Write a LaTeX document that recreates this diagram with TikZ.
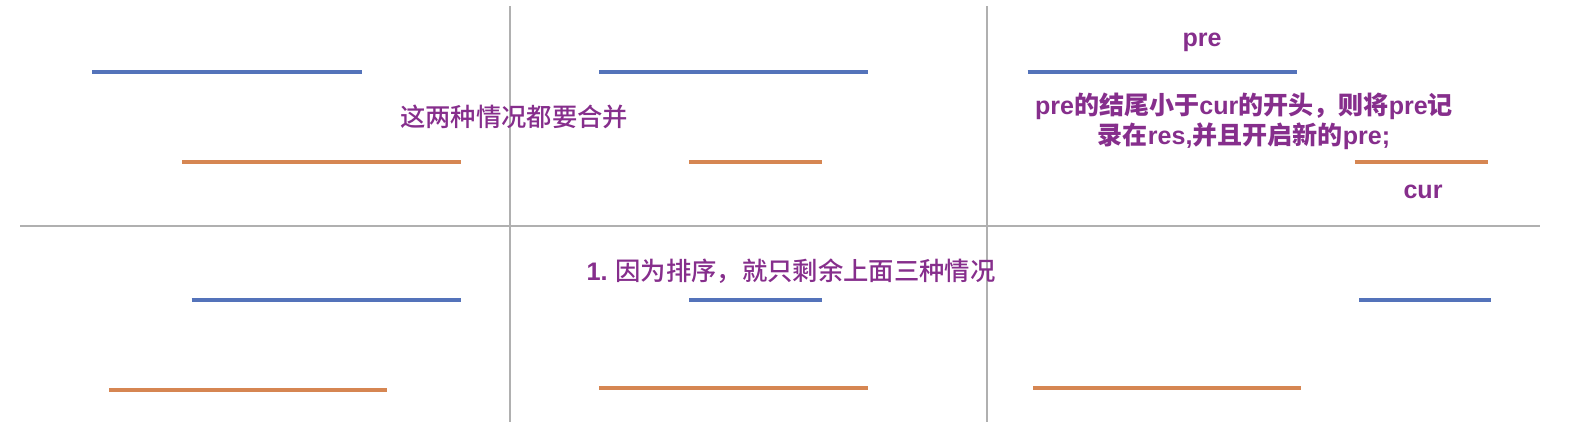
\documentclass[tikz,border=0pt]{standalone}
\usepackage{fontspec}
\setmainfont{Liberation Sans}
\newfontfamily\cjk{Noto Sans CJK SC}
\newfontfamily\cjkmed{Noto Sans CJK SC Medium}
\newcommand{\lat}[1]{{\rmfamily\bfseries #1}}
\definecolor{segblue}{RGB}{84,115,186}
\definecolor{segorange}{RGB}{214,134,82}
\definecolor{gridgray}{RGB}{176,176,176}
\definecolor{txtpurple}{RGB}{134,46,140}
\tikzset{
  bluebar/.style={draw=segblue,line width=3pt},
  orangebar/.style={draw=segorange,line width=3pt},
  gridline/.style={draw=gridgray,line width=1.5pt},
  lbl/.style={text=txtpurple,inner sep=0pt,font=\cjkmed\fontsize{19}{22.5}\selectfont},
  lblr/.style={text=txtpurple,inner sep=0pt,align=center,font=\cjk\bfseries\fontsize{18.8}{22.5}\selectfont}
}
\begin{document}
\begin{tikzpicture}[x=0.75pt,y=-0.75pt]
\useasboundingbox (0,0) rectangle (1580,426);
% grid
\draw[gridline] (20,225.6) -- (1540,225.6);
\draw[gridline] (510,6) -- (510,422);
\draw[gridline] (987.3,6) -- (987.3,422);
% top row
\draw[bluebar] (92.3,72.3) -- (361.7,72.3);
\draw[orangebar] (182.3,162.3) -- (460.7,162.3);
\draw[bluebar] (599.3,72.3) -- (868.3,72.3);
\draw[orangebar] (689.3,162.3) -- (822.3,162.3);
\draw[bluebar] (1027.7,72.3) -- (1296.7,72.3);
\draw[orangebar] (1354.7,162.3) -- (1487.7,162.3);
% bottom row
\draw[bluebar] (191.7,300.3) -- (460.7,300.3);
\draw[orangebar] (109,390) -- (387,390);
\draw[bluebar] (689.3,300.3) -- (822.3,300.3);
\draw[orangebar] (599.3,387.7) -- (868.3,387.7);
\draw[bluebar] (1359.4,300.3) -- (1491.4,300.3);
\draw[orangebar] (1033,388) -- (1301,388);
% labels
\node[lbl] (merge) at (514,117) {这两种情况都要合并};
\node[lbl] (sorted) at (791,271.5) {\lat{1.} 因为排序，就只剩余上面三种情况};
\node[lblr] (pre) at (1202,42) {\lat{pre}};
\node[lblr] (cur) at (1423,192) {\lat{cur}};
\node[lblr] (rule) at (1244,121) {\lat{pre}的结尾小于\lat{cur}的开头，则将\lat{pre}记\\录在\lat{res,}并且开启新的\lat{pre;}};
\end{tikzpicture}
\end{document}
